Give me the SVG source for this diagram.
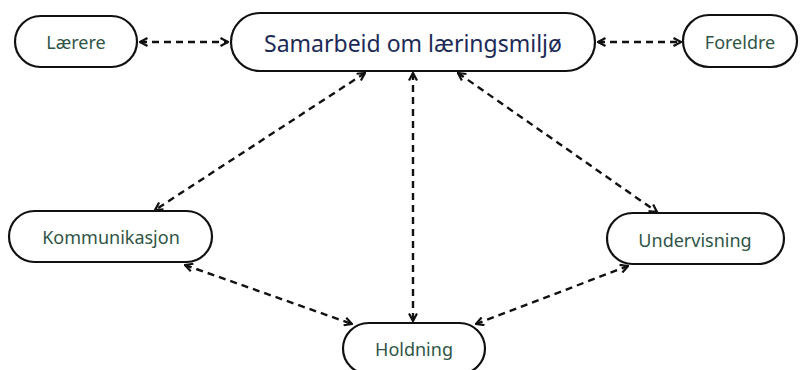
<svg xmlns="http://www.w3.org/2000/svg" width="805" height="370" viewBox="0 0 805 370">
<defs>
<style>
.box{fill:#fff;stroke:#111;stroke-width:2.2}
.lbl{font-family:"Noto Sans","Open Sans",sans-serif;font-size:18px;fill:#2f5546;text-anchor:middle;dominant-baseline:central}
.title{font-family:"Noto Sans","Open Sans",sans-serif;font-size:23px;fill:#1c2a57;text-anchor:middle;dominant-baseline:central}
.conn{fill:none;stroke:#111;stroke-width:2.4;stroke-dasharray:7 5;marker-start:url(#ah);marker-end:url(#ah)}
</style>
<marker id="ah" viewBox="0 0 10 10" refX="9" refY="5" markerWidth="10" markerHeight="10" markerUnits="userSpaceOnUse" orient="auto-start-reverse">
<path d="M1.5,1 L9,5 L1.5,9" fill="none" stroke="#111" stroke-width="2.2"/>
</marker>
</defs>
<rect width="805" height="370" fill="#fff"/>
<g id="connectors">
<line class="conn" x1="140" y1="42" x2="228" y2="42"/>
<line class="conn" x1="598" y1="42" x2="681" y2="42"/>
<line class="conn" x1="365" y1="73" x2="155" y2="210"/>
<line class="conn" x1="413" y1="73" x2="413" y2="321"/>
<line class="conn" x1="458" y1="73" x2="657" y2="212"/>
<line class="conn" x1="185" y1="265" x2="352" y2="324"/>
<line class="conn" x1="476" y1="324" x2="628" y2="266"/>
</g>
<g id="node-samarbeid">
<rect class="box" x="231" y="13" width="364" height="58" rx="29"/>
<text class="title" x="413" y="43">Samarbeid om læringsmiljø</text>
</g>
<g id="node-laerere">
<rect class="box" x="15" y="16" width="122" height="51" rx="25.5"/>
<text class="lbl" x="76" y="42">Lærere</text>
</g>
<g id="node-foreldre">
<rect class="box" x="683" y="15" width="114" height="52" rx="26"/>
<text class="lbl" x="740" y="42">Foreldre</text>
</g>
<g id="node-kommunikasjon">
<rect class="box" x="9" y="211" width="203" height="51" rx="25.5"/>
<text class="lbl" x="111" y="237">Kommunikasjon</text>
</g>
<g id="node-undervisning">
<rect class="box" x="607" y="213" width="177" height="51" rx="25.5"/>
<text class="lbl" x="695" y="240">Undervisning</text>
</g>
<g id="node-holdning">
<rect class="box" x="343" y="323" width="142" height="51" rx="25.5"/>
<text class="lbl" x="414" y="349">Holdning</text>
</g>
</svg>
